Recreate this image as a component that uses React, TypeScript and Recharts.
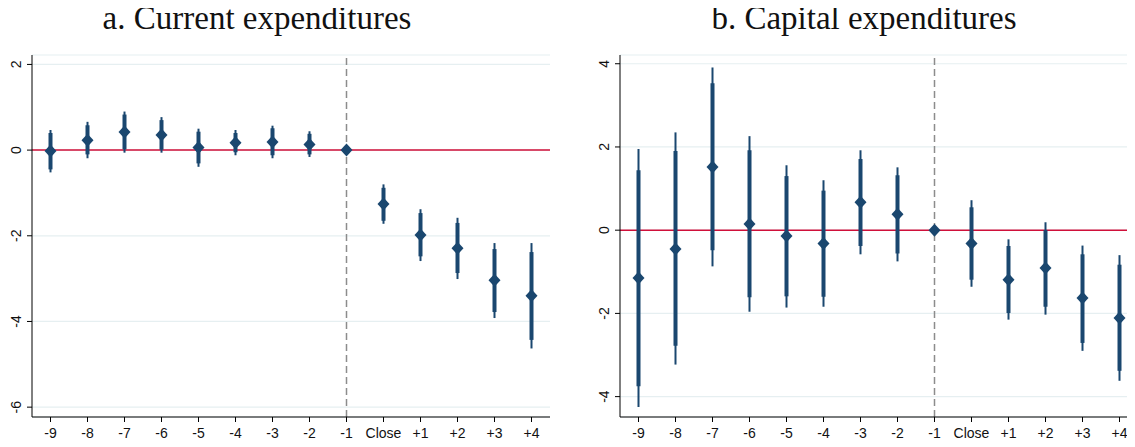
import React from "react"
import { ComposedChart, Scatter, ErrorBar, XAxis, YAxis, CartesianGrid, ReferenceLine } from "recharts"

const categories = ["-9", "-8", "-7", "-6", "-5", "-4", "-3", "-2", "-1", "Close", "+1", "+2", "+3", "+4"]

// panel a: current expenditures
const curCoef = [-0.02, 0.23, 0.42, 0.35, 0.06, 0.17, 0.19, 0.13, 0, -1.26, -1.98, -2.29, -3.04, -3.4]
const curLo95 = [-0.52, -0.19, -0.06, -0.06, -0.39, -0.12, -0.19, -0.16, 0, -1.72, -2.59, -3.01, -3.92, -4.63]
const curHi95 = [0.47, 0.66, 0.9, 0.77, 0.5, 0.47, 0.57, 0.44, 0, -0.8, -1.38, -1.58, -2.17, -2.17]
const curLo90 = [-0.45, -0.1, 0.02, 0.01, -0.31, -0.05, -0.12, -0.1, 0, -1.65, -2.48, -2.87, -3.78, -4.43]
const curHi90 = [0.4, 0.58, 0.83, 0.7, 0.43, 0.4, 0.51, 0.38, 0, -0.88, -1.47, -1.7, -2.31, -2.38]
const curTicks = [-6, -4, -2, 0, 2]

// panel b: capital expenditures
const capCoef = [-1.15, -0.45, 1.52, 0.15, -0.14, -0.32, 0.67, 0.38, 0, -0.32, -1.19, -0.91, -1.63, -2.11]
const capLo95 = [-4.25, -3.23, -0.87, -1.96, -1.86, -1.84, -0.58, -0.75, 0, -1.36, -2.15, -2.03, -2.9, -3.62]
const capHi95 = [1.95, 2.35, 3.91, 2.26, 1.56, 1.2, 1.92, 1.51, 0, 0.72, -0.22, 0.19, -0.37, -0.6]
const capLo90 = [-3.75, -2.78, -0.48, -1.61, -1.59, -1.6, -0.38, -0.56, 0, -1.19, -1.99, -1.84, -2.71, -3.38]
const capHi90 = [1.44, 1.9, 3.53, 1.92, 1.3, 0.95, 1.71, 1.32, 0, 0.55, -0.38, 0.0, -0.58, -0.83]
const capTicks = [-4, -2, 0, 2, 4]

const NAVY = "#1a476f"
const TICK_FONT = "'Liberation Sans', Arial, sans-serif"

function buildRows(coef: number[], lo95: number[], hi95: number[], lo90: number[], hi90: number[]) {
  return coef.map((c, i) => ({
    x: i,
    y: c,
    e95: [c - lo95[i], hi95[i] - c],
    e90: [c - lo90[i], hi90[i] - c],
  }))
}

const Diamond = (props: any) => {
  const { cx, cy } = props
  if (cx == null || cy == null) return <g />
  return <polygon points={`${cx},${cy - 6.5} ${cx + 6},${cy} ${cx},${cy + 6.5} ${cx - 6},${cy}`} fill={NAVY} />
}

const Nothing = () => <g />

const YTick = (props: any) => {
  const { x, y, payload } = props
  return (
    <text x={x} y={y} transform={`rotate(-90 ${x} ${y})`} textAnchor="middle" fontSize={14} fontFamily={TICK_FONT} fill="#111">
      {payload.value}
    </text>
  )
}

type PanelProps = {
  rows: any[]
  domain: [number, number]
  ticks: number[]
  width: number
}

function Panel({ rows, domain, ticks, width }: PanelProps) {
  return (
    <ComposedChart width={width} height={447} data={rows} margin={{ top: 55, right: 0, bottom: 0, left: 0 }}>
      <CartesianGrid horizontal vertical={false} stroke="#e6eff1" strokeWidth={1.2} />
      <XAxis
        type="number"
        dataKey="x"
        domain={[-0.5, 13.5]}
        ticks={categories.map((_, i) => i)}
        tickFormatter={(v: number) => categories[v]}
        allowDataOverflow
        height={30}
        tickSize={5}
        tickMargin={6}
        stroke="#000"
        tick={{ fontSize: 14, fontFamily: TICK_FONT, fill: "#111" }}
      />
      <YAxis
        type="number"
        dataKey="y"
        domain={domain}
        ticks={ticks}
        allowDataOverflow
        width={32}
        tickSize={5}
        tickMargin={6}
        stroke="#000"
        tick={<YTick />}
      />
      <ReferenceLine y={0} stroke="#d0103a" strokeWidth={1.5} />
      <ReferenceLine x={8} stroke="#8c8c8c" strokeWidth={1.5} strokeDasharray="7 4" />
      <Scatter data={rows} shape={<Nothing />} isAnimationActive={false}>
        <ErrorBar dataKey="e95" direction="y" width={0} strokeWidth={2} stroke={NAVY} isAnimationActive={false} />
      </Scatter>
      <Scatter data={rows} shape={<Nothing />} isAnimationActive={false}>
        <ErrorBar dataKey="e90" direction="y" width={0} strokeWidth={4} stroke={NAVY} isAnimationActive={false} />
      </Scatter>
      <Scatter data={rows} shape={<Diamond />} isAnimationActive={false} />
    </ComposedChart>
  )
}

const titleStyle: React.CSSProperties = {
  position: "absolute",
  top: 0,
  fontFamily: "'Liberation Serif', 'Times New Roman', serif",
  fontSize: 33,
  color: "#111",
  textAlign: "center",
  whiteSpace: "nowrap",
}

export default function App() {
  const curRows = buildRows(curCoef, curLo95, curHi95, curLo90, curHi90)
  const capRows = buildRows(capCoef, capLo95, capHi95, capLo90, capHi90)
  return (
    <div style={{ position: "relative", width: 1135, height: 447, margin: -8, overflow: "hidden", background: "#fff" }}>
      <div style={{ ...titleStyle, left: 57, width: 400 }}>a. Current expenditures</div>
      <div style={{ ...titleStyle, left: 664, width: 400 }}>b. Capital expenditures</div>
      <div style={{ position: "absolute", left: 0, top: 0 }}>
        <Panel rows={curRows} domain={[-6.23, 2.22]} ticks={curTicks} width={550} />
      </div>
      <div style={{ position: "absolute", left: 588, top: 0 }}>
        <Panel rows={capRows} domain={[-4.49, 4.21]} ticks={capTicks} width={550} />
      </div>
    </div>
  )
}
